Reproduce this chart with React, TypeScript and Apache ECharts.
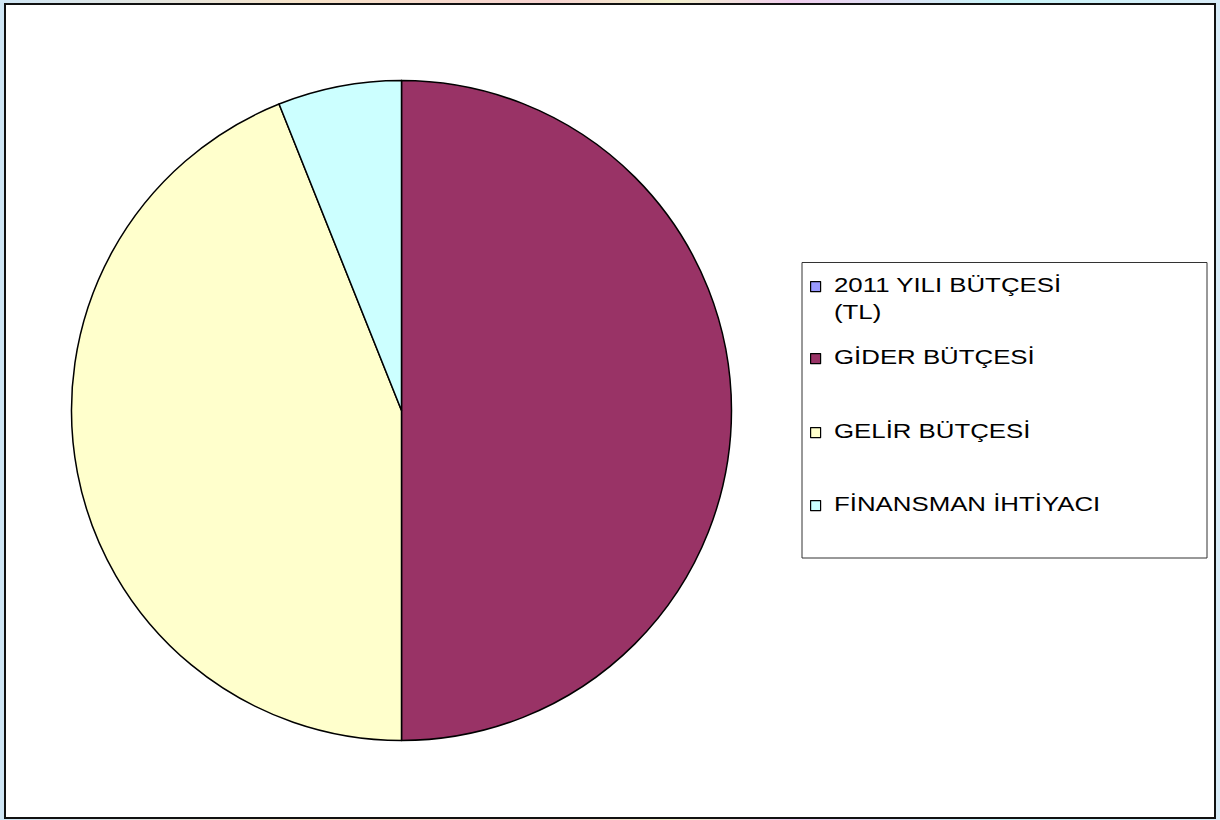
import React, { useEffect, useRef } from "react";
import * as echarts from "echarts";

const categories = [
  "2011 YILI BÜTÇESİ (TL)",
  "GİDER BÜTÇESİ",
  "GELİR BÜTÇESİ",
  "FİNANSMAN İHTİYACI",
];
const values = [0, 100, 87.9, 12.1];
const colors = ["#9999FF", "#993366", "#FFFFCC", "#CCFFFF"];
const legendLines = [["2011 YILI BÜTÇESİ", "(TL)"], ["GİDER BÜTÇESİ"], ["GELİR BÜTÇESİ"], ["FİNANSMAN İHTİYACI"]];
const legendIconCenters = [286, 358, 432, 505];

export default function App() {
  const ref = useRef<HTMLDivElement>(null);
  useEffect(() => {
    if (!ref.current) return;
    const chart = echarts.init(ref.current, undefined, { renderer: "svg" });
    const font = "'Liberation Sans', Arial, sans-serif";
    const legends = categories.map((c, i) => ({
      data: [c],
      left: 810,
      top: legendIconCenters[i] - 5,
      orient: "vertical",
      padding: 0,
      icon: "rect",
      itemWidth: 10,
      itemHeight: 10,
      selectedMode: false,
      itemStyle: { borderColor: "#000", borderWidth: 1.2 },
      formatter: () => "",
      textStyle: { fontSize: 10, lineHeight: 10, color: "#000" },
    }));
    const texts: any[] = [];
    legendLines.forEach((lines, i) => {
      lines.forEach((line, j) => {
        texts.push({
          type: "text",
          x: 834,
          y: legendIconCenters[i] - 1 + j * 27,
          scaleX: 1.26,
          z: 10,
          style: {
            text: line,
            fill: "#000",
            font: `20.5px ${font}`,
            textAlign: "left",
            textVerticalAlign: "middle",
          },
        });
      });
    });
    chart.setOption({
      animation: false,
      backgroundColor: "transparent",
      graphic: [
        {
          type: "rect",
          z: -10,
          shape: { x: 5, y: 4, width: 1210, height: 814 },
          style: { fill: "#ffffff", stroke: "#111", lineWidth: 2 },
        },
        {
          type: "rect",
          z: -5,
          shape: { x: 802, y: 262.5, width: 405, height: 295.5 },
          style: { fill: "#ffffff", stroke: "#333", lineWidth: 1 },
        },
        ...texts,
      ],
      legend: legends,
      series: [
        {
          type: "pie",
          center: [401.5, 410.5],
          radius: [0, 330],
          startAngle: 90,
          clockwise: true,
          label: { show: false },
          labelLine: { show: false },
          emphasis: { disabled: true },
          itemStyle: { borderColor: "#000", borderWidth: 1.5 },
          data: categories.map((name, i) => ({
            name,
            value: values[i],
            itemStyle: { color: colors[i] },
          })),
        },
      ],
    });
    return () => chart.dispose();
  }, []);
  return (
    <div
      style={{
        position: "absolute",
        left: 0,
        top: 0,
        width: 1220,
        height: 820,
        background:
          "linear-gradient(90deg, #cfe6f5 0%, #f6e2c8 25%, #f6d2d0 45%, #f2f0cc 55%, #f0cdee 65%, #c8f4f8 82%, #d8ecf8 100%)",
      }}
    >
      <div ref={ref} style={{ width: 1220, height: 820 }} />
    </div>
  );
}
